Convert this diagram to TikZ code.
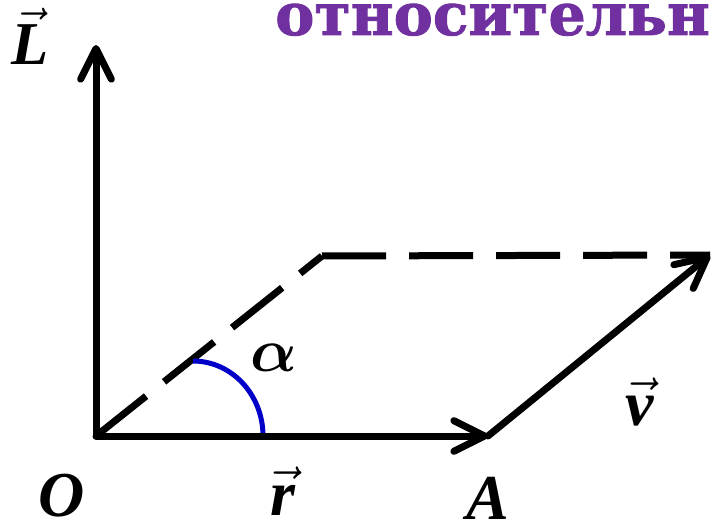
\documentclass[tikz,border=0pt]{standalone}
\usepackage{fontspec}
\setmainfont{Liberation Serif}
\newfontfamily\titlefont[BoldFeatures={FakeBold=1.5}]{DejaVu Serif}
\usetikzlibrary{arrows.meta}
\definecolor{titlepurple}{HTML}{7030A0}
\definecolor{arcblue}{RGB}{0,0,200}
\begin{document}
\begin{tikzpicture}[x=0.75pt,y=-0.75pt,
  vecline/.style={line width=5.25pt, line cap=round, -{Straight Barb[length=23pt,width=23pt,round]}},
  dashline/.style={line width=5.25pt, dash pattern=on 48pt off 17.25pt},
  lbl/.style={anchor=base, inner sep=0pt, scale=1.93, font=\fontsize{24.88}{26}\selectfont\bfseries\itshape},
  title/.style={anchor=base west, inner sep=0pt, text=titlepurple, font=\fontsize{44}{48}\selectfont\titlefont\bfseries}]
\useasboundingbox (0,0) rectangle (712,523);
\clip (0,0) rectangle (712,523);
\coordinate (O) at (96,436);
\coordinate (Ltip) at (96,45);
\coordinate (A) at (488,436);
\coordinate (V) at (710,255);
\coordinate (C) at (322,256);
% dashed parallelogram sides
\draw[dashline] (O) -- (C);
\draw[dashline] (C) -- (V);
% angle arc
\draw[arcblue, line width=3.75pt] (193,361) arc[start angle=-90, end angle=0, x radius=70, y radius=75];
% vectors
\draw[vecline] (O) -- (Ltip);
\draw[vecline] (O) -- (A);
\draw[vecline] (A) -- (V);
% labels
\node[title] (ttl) at (275,35) {относительн};
\node[lbl, scale=0.95] (Llbl) at (30,65) {$\vec{\mbox{L}}$};
\node[lbl] (Olbl) at (62,516) {O};
\node[lbl] (rlbl) at (283,515) {$\vec{\mbox{r}}$};
\node[lbl] (Albl) at (488,519) {A};
\node[lbl] (vlbl) at (640,425) {$\vec{\mbox{v}}$};
\node[inner sep=0pt, scale=1.85, font=\fontsize{24.88}{26}\selectfont\boldmath] (alpha) at (274,358) {$\alpha$};
\end{tikzpicture}
\end{document}
